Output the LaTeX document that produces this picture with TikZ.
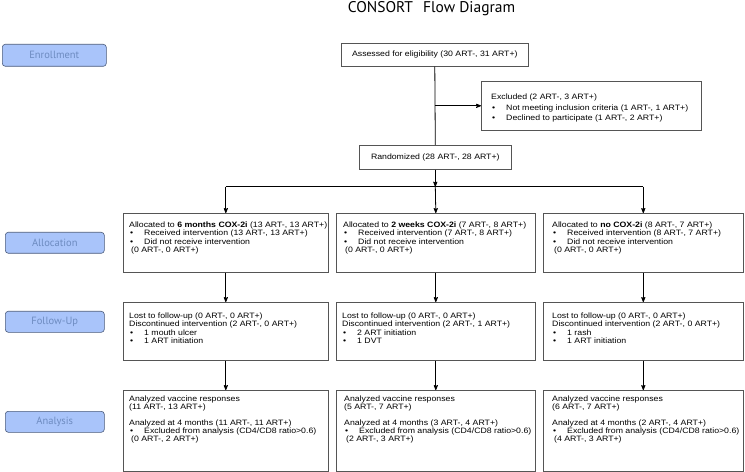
\documentclass[tikz,border=0pt]{standalone}
\usepackage{fontspec}
\usepackage{tikz}
\usetikzlibrary{arrows}
\usetikzlibrary{calc}
\usetikzlibrary{positioning}

\newfontfamily\boxfont{Liberation Sans}[FakeStretch=1.12]
\newfontfamily\stagefont{PT Sans}
\definecolor{stagefill}{HTML}{A9C4FA}
\definecolor{stageedge}{HTML}{4A5A7A}
\definecolor{stagetext}{HTML}{6D8BC0}
\definecolor{boxedge}{HTML}{555555}

\newcommand{\itm}{\makebox[15bp][l]{\hspace{1bp}\textbullet}}

\begin{document}
\begin{tikzpicture}[x=1bp,y=-1bp,
    box/.style={draw=boxedge,line width=0.6bp,rectangle,inner sep=0pt,anchor=north west},
    boxtext/.style={anchor=base west,inner sep=0pt,align=left,font=\boxfont\fontsize{7.8bp}{8.3bp}\selectfont},
    stage/.style={draw=stageedge,fill=stagefill,rounded corners=3bp,line width=0.6bp,anchor=north west,
      minimum width=99bp,minimum height=21bp,inner sep=0pt,text=stagetext,font=\stagefont\fontsize{10.5bp}{12bp}\selectfont},
    flow/.style={->,>=stealth'}]

  \useasboundingbox (0,0) rectangle (745,472);

  \node [font=\stagefont\fontsize{15.5bp}{17bp}\selectfont] (title) at (431.5,9) {CONSORT\hspace{10bp}Flow Diagram};

  % stages on the left
  \node [stage,minimum width=104bp,minimum height=22bp] (enrol) at (2,44) {Enrollment};
  \node [stage] (allocst) at (5,232) {Allocation};
  \node [stage] (followst) at (5,311) {Follow-Up};
  \node [stage] (anast) at (5,411) {Analysis};

  % enrollment
  \node [box,minimum width=187bp,minimum height=23bp,font=\boxfont\fontsize{7.8bp}{8.3bp}\selectfont] (assess) at (341,43) {Assessed for eligibility (30 ART-, 31 ART+)};

  % (base anchor = last line, so offsets point at the last baseline)
  \node [box,minimum width=220bp,minimum height=49bp] (excl) at (481,81) {};
  \node [boxtext,font=\boxfont\fontsize{7.8bp}{10.4bp}\selectfont] (excltxt) at ($(excl.north west)+(10,39.5)$) {Excluded (2 ART-, 3 ART+)\\
    \itm Not meeting inclusion criteria (1 ART-, 1 ART+)\\
    \itm Declined to participate (1 ART-, 2 ART+)};

  \node [box,minimum width=152bp,minimum height=24bp,font=\boxfont\fontsize{7.8bp}{8.3bp}\selectfont] (random) at (359,145) {Randomized (28 ART-, 28 ART+)};

  % allocation
  \node [box,minimum width=205bp,minimum height=59bp] (alloc1) at (123,213) {};
  \node [boxtext] (alloc1txt) at ($(alloc1.north west)+(6,39.6)$) {Allocated to \textbf{6 months COX-2i} (13 ART-, 13 ART+)\\
    \itm Received intervention (13 ART-, 13 ART+)\\
    \itm Did not receive intervention\\
    \hspace*{2bp}(0 ART-, 0 ART+)};

  \node [box,minimum width=199bp,minimum height=59bp] (alloc2) at (336,213) {};
  \node [boxtext] (alloc2txt) at ($(alloc2.north west)+(7,39.6)$) {Allocated to \textbf{2 weeks COX-2i} (7 ART-, 8 ART+)\\
    \itm Received intervention (7 ART-, 8 ART+)\\
    \itm Did not receive intervention\\
    \hspace*{2bp}(0 ART-, 0 ART+)};

  \node [box,minimum width=200bp,minimum height=59bp] (alloc3) at (543,213) {};
  \node [boxtext] (alloc3txt) at ($(alloc3.north west)+(9,39.6)$) {Allocated to \textbf{no COX-2i} (8 ART-, 7 ART+)\\
    \itm Received intervention (8 ART-, 7 ART+)\\
    \itm Did not receive intervention\\
    \hspace*{2bp}(0 ART-, 0 ART+)};

  % follow-up
  \node [box,minimum width=205bp,minimum height=58bp] (follow1) at (123,302) {};
  \node [boxtext] (follow1txt) at ($(follow1.north west)+(6,41.6)$) {Lost to follow-up (0 ART-, 0 ART+)\\
    Discontinued intervention (2 ART-, 0 ART+)\\
    \itm 1 mouth ulcer\\
    \itm 1 ART initiation};

  \node [box,minimum width=199bp,minimum height=58bp] (follow2) at (336,302) {};
  \node [boxtext] (follow2txt) at ($(follow2.north west)+(6,41.6)$) {Lost to follow-up (0 ART-, 0 ART+)\\
    Discontinued intervention (2 ART-, 1 ART+)\\
    \itm 2 ART initiation\\
    \itm 1 DVT};

  \node [box,minimum width=200bp,minimum height=58bp] (follow3) at (543,302) {};
  \node [boxtext] (follow3txt) at ($(follow3.north west)+(9,41.6)$) {Lost to follow-up (0 ART-, 0 ART+)\\
    Discontinued intervention (2 ART-, 0 ART+)\\
    \itm 1 rash\\
    \itm 1 ART initiation};

  % analysis
  \node [box,minimum width=205bp,minimum height=81bp] (ana1) at (123,390) {};
  \node [boxtext,font=\boxfont\fontsize{7.8bp}{8bp}\selectfont] (ana1txt) at ($(ana1.north west)+(6,51.7)$) {Analyzed vaccine responses\\
    (11 ART-, 13 ART+)\\[8bp]
    Analyzed at 4 months (11 ART-, 11 ART+)\\
    \itm Excluded from analysis (CD4/CD8 ratio>0.6)\\
    \hspace*{2bp}(0 ART-, 2 ART+)};

  \node [box,minimum width=199bp,minimum height=81bp] (ana2) at (336,390) {};
  \node [boxtext,font=\boxfont\fontsize{7.8bp}{8bp}\selectfont] (ana2txt) at ($(ana2.north west)+(8,51.7)$) {Analyzed vaccine responses\\
    (5 ART-, 7 ART+)\\[8bp]
    Analyzed at 4 months (3 ART-, 4 ART+)\\
    \itm Excluded from analysis (CD4/CD8 ratio>0.6)\\
    \hspace*{2bp}(2 ART-, 3 ART+)};

  \node [box,minimum width=200bp,minimum height=81bp] (ana3) at (543,390) {};
  \node [boxtext,font=\boxfont\fontsize{7.8bp}{8bp}\selectfont] (ana3txt) at ($(ana3.north west)+(9,51.7)$) {Analyzed vaccine responses\\
    (6 ART-, 7 ART+)\\[8bp]
    Analyzed at 4 months (2 ART-, 4 ART+)\\
    \itm Excluded from analysis (CD4/CD8 ratio>0.6)\\
    \hspace*{2bp}(4 ART-, 3 ART+)};

  % connectors
  \coordinate (exclsplit) at (assess.south |- excl.west);
  \coordinate (split) at ($(random.south)+(0,17)$);
  \coordinate (split1) at (split -| alloc1.north);
  \coordinate (split3) at (split -| alloc3.north);

  \path [draw,thick] (assess.south) -- (random.north);
  \path [draw,thick] (split1) -- (split3);

  \path [thick]
    (exclsplit) edge [flow] (excl.west)
    (random.south) edge [flow] (split)
    (split1) edge [flow] (alloc1.north)
    (split) edge [flow] (alloc2.north)
    (split3) edge [flow] (alloc3.north)
    (alloc1) edge [flow] (follow1)
    (alloc2) edge [flow] (follow2)
    (alloc3) edge [flow] (follow3)
    (follow1) edge [flow] (ana1)
    (follow2) edge [flow] (ana2)
    (follow3) edge [flow] (ana3);

\end{tikzpicture}
\end{document}
